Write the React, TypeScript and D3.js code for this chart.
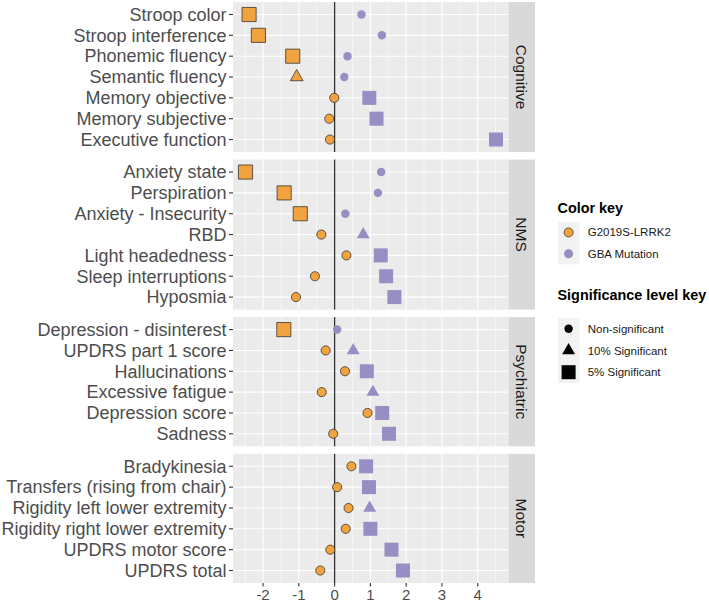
import React from "react";
import * as d3 from "d3";

const width = 709;
const height = 603;

// facet groups and their items (top to bottom)
const groups = ["Cognitive", "NMS", "Psychiatric", "Motor"];

const cognitiveItems = ["Stroop color", "Stroop interference", "Phonemic fluency", "Semantic fluency", "Memory objective", "Memory subjective", "Executive function"];
const nmsItems = ["Anxiety state", "Perspiration", "Anxiety - Insecurity", "RBD", "Light headedness", "Sleep interruptions", "Hyposmia"];
const psychItems = ["Depression - disinterest", "UPDRS part 1 score", "Hallucinations", "Excessive fatigue", "Depression score", "Sadness"];
const motorItems = ["Bradykinesia", "Transfers (rising from chair)", "Rigidity left lower extremity", "Rigidity right lower extremity", "UPDRS motor score", "UPDRS total"];

// effect estimates
const lrrk2Cognitive = [-2.39, -2.13, -1.17, -1.06, -0.01, -0.15, -0.13];
const gbaCognitive = [0.75, 1.32, 0.36, 0.27, 0.97, 1.17, 4.51];
const lrrk2Nms = [-2.49, -1.41, -0.96, -0.37, 0.33, -0.55, -1.08];
const gbaNms = [1.3, 1.21, 0.3, 0.8, 1.29, 1.44, 1.67];
const lrrk2Psych = [-1.42, -0.25, 0.29, -0.36, 0.92, -0.04];
const gbaPsych = [0.07, 0.52, 0.9, 1.07, 1.33, 1.52];
const lrrk2Motor = [0.47, 0.07, 0.39, 0.31, -0.12, -0.4];
const gbaMotor = [0.88, 0.96, 0.98, 1.0, 1.59, 1.91];

// significance: 0 = non-significant, 1 = 10%, 2 = 5%
const lrrk2SigCognitive = [2, 2, 2, 1, 0, 0, 0];
const gbaSigCognitive = [0, 0, 0, 0, 2, 2, 2];
const lrrk2SigNms = [2, 2, 2, 0, 0, 0, 0];
const gbaSigNms = [0, 0, 0, 1, 2, 2, 2];
const lrrk2SigPsych = [2, 0, 0, 0, 0, 0];
const gbaSigPsych = [0, 1, 2, 1, 2, 2];
const lrrk2SigMotor = [0, 0, 0, 0, 0, 0];
const gbaSigMotor = [2, 2, 1, 2, 2, 2];

const xTicks = [-2, -1, 0, 1, 2, 3, 4];
const colorKeys = ["G2019S-LRRK2", "GBA Mutation"];
const sigKeys = ["Non-significant", "10% Significant", "5% Significant"];

const orange = "#f1a340";
const purple = "#998ec3";
const font = "'Liberation Sans', Arial, sans-serif";

const panels = [
  { name: groups[0], items: cognitiveItems, lrrk2: lrrk2Cognitive, gba: gbaCognitive, ls: lrrk2SigCognitive, gs: gbaSigCognitive },
  { name: groups[1], items: nmsItems, lrrk2: lrrk2Nms, gba: gbaNms, ls: lrrk2SigNms, gs: gbaSigNms },
  { name: groups[2], items: psychItems, lrrk2: lrrk2Psych, gba: gbaPsych, ls: lrrk2SigPsych, gs: gbaSigPsych },
  { name: groups[3], items: motorItems, lrrk2: lrrk2Motor, gba: gbaMotor, ls: lrrk2SigMotor, gs: gbaSigMotor },
];

const left = 233;
const right = 508.5;
const stripW = 26.5;
const top = 2;
const bottom = 583;
const gap = 7.5;
const pad = 0.6;

const symbolFor = (sig: number, big: boolean) => {
  if (sig === 2) return d3.symbol(d3.symbolSquare, big ? 200 : 196)();
  if (sig === 1) return d3.symbol(d3.symbolTriangle, 72)();
  return d3.symbol(d3.symbolCircle, big ? 66 : 56)();
};

export default function App() {
  const allVals = panels.flatMap((p) => [...p.lrrk2, ...p.gba]);
  const [lo, hi] = d3.extent(allVals) as [number, number];
  const ex = (hi - lo) * 0.05;
  const x = d3.scaleLinear().domain([lo - ex, hi + ex]).range([left, right]);
  const minor = d3.range(Math.ceil((lo - ex) * 2) / 2, hi + ex, 0.5).filter((v) => v % 1 !== 0);

  const units = d3.sum(panels, (p) => p.items.length - 1 + 2 * pad);
  const step = (bottom - top - gap * (panels.length - 1)) / units;

  let y0 = top;
  const layout = panels.map((p) => {
    const h = step * (p.items.length - 1 + 2 * pad);
    const y = d3.scalePoint<string>().domain(p.items).range([y0, y0 + h]).padding(pad);
    const r = { ...p, y, yTop: y0, h };
    y0 += h + gap;
    return r;
  });

  return (
    <div style={{ position: "absolute", left: 0, top: 0 }}>
      <svg width={width} height={height} style={{ display: "block", fontFamily: font }}>
        <rect width={width} height={height} fill="#fff" />
        {layout.map((p) => (
          <g key={p.name}>
            <rect x={left} y={p.yTop} width={right - left} height={p.h} fill="#ebebeb" />
            {minor.map((v) => (
              <line key={"m" + v} x1={x(v)} x2={x(v)} y1={p.yTop} y2={p.yTop + p.h} stroke="#fff" strokeWidth={0.55} />
            ))}
            {xTicks.map((v) => (
              <line key={"M" + v} x1={x(v)} x2={x(v)} y1={p.yTop} y2={p.yTop + p.h} stroke="#fff" strokeWidth={1.1} />
            ))}
            {p.items.map((it) => (
              <g key={it}>
                <line x1={left} x2={right} y1={p.y(it)} y2={p.y(it)} stroke="#fff" strokeWidth={1.1} />
                <line x1={left - 4} x2={left} y1={p.y(it)} y2={p.y(it)} stroke="#333" strokeWidth={1.1} />
                <text x={left - 6.5} y={p.y(it)} dy="0.35em" textAnchor="end" fontSize={18} fill="#4d4d4d">
                  {it}
                </text>
              </g>
            ))}
            <line x1={x(0)} x2={x(0)} y1={p.yTop} y2={p.yTop + p.h} stroke="#333" strokeWidth={1.3} />
            {p.items.map((it, i) => (
              <path
                key={"o" + it}
                d={symbolFor(p.ls[i], true) || ""}
                transform={`translate(${x(p.lrrk2[i])},${p.y(it)})`}
                fill={orange}
                stroke="#222"
                strokeWidth={0.7}
              />
            ))}
            {p.items.map((it, i) => (
              <path
                key={"p" + it}
                d={symbolFor(p.gs[i], false) || ""}
                transform={`translate(${x(p.gba[i])},${p.y(it)})`}
                fill={purple}
              />
            ))}
            <rect x={right} y={p.yTop} width={stripW} height={p.h} fill="#d9d9d9" />
            <text
              transform={`translate(${right + stripW / 2},${p.yTop + p.h / 2}) rotate(90)`}
              textAnchor="middle"
              dy="0.35em"
              fontSize={15.5}
              fill="#1a1a1a"
            >
              {p.name}
            </text>
          </g>
        ))}
        {xTicks.map((v) => (
          <g key={"xt" + v}>
            <line x1={x(v)} x2={x(v)} y1={bottom} y2={bottom + 3.5} stroke="#333" strokeWidth={1.1} />
            <text x={x(v)} y={600} textAnchor="middle" fontSize={15} fill="#4d4d4d">
              {v}
            </text>
          </g>
        ))}
        <g>
          <text x={557.5} y={213} fontSize={14.4} fontWeight="bold" fill="#000">
            Color key
          </text>
          {colorKeys.map((k, i) => {
            const cy = 232.4 + i * 21.3;
            return (
              <g key={k}>
                <rect x={558} y={cy - 10.65} width={21.3} height={21.3} fill="#f2f2f2" />
                <path
                  d={d3.symbol(d3.symbolCircle, 64)() || ""}
                  transform={`translate(${568.6},${cy})`}
                  fill={i === 0 ? orange : purple}
                  stroke={i === 0 ? "#222" : "none"}
                  strokeWidth={0.7}
                />
                <text x={587.7} y={cy} dy="0.35em" fontSize={11.5} fill="#1a1a1a">
                  {k}
                </text>
              </g>
            );
          })}
          <text x={557.5} y={300} fontSize={14.4} fontWeight="bold" fill="#000">
            Significance level key
          </text>
          {sigKeys.map((k, i) => {
            const cy = 328.8 + i * 21.7;
            return (
              <g key={k}>
                <rect x={558} y={cy - 10.85} width={21.3} height={21.7} fill="#f2f2f2" />
                <path d={symbolFor(i, false) || ""} transform={`translate(${568.6},${cy})`} fill="#000" />
                <text x={587.7} y={cy} dy="0.35em" fontSize={11.5} fill="#1a1a1a">
                  {k}
                </text>
              </g>
            );
          })}
        </g>
      </svg>
    </div>
  );
}
